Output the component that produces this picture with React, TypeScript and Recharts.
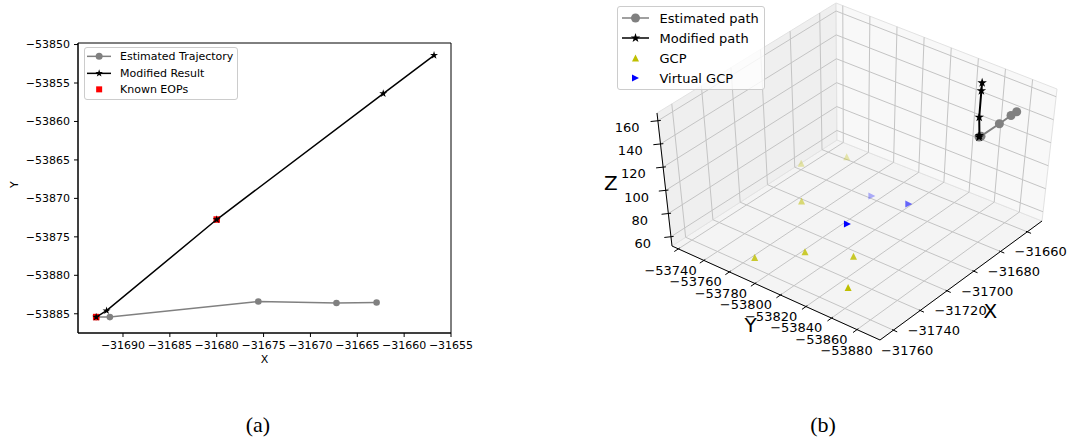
import React from "react";
import { Label, Legend, ReferenceArea, Scatter, ScatterChart, XAxis, YAxis } from "recharts";

const FONT = "DejaVu Sans";

// ---- (a) trajectories seen from above ----
const estX = [-31692.86, -31691.4, -31675.56, -31667.22, -31662.94];
const estY = [-53885.43, -53885.43, -53883.41, -53883.6, -53883.54];
const modX = [-31692.86, -31691.75, -31680.0, -31662.23, -31656.81];
const modY = [-53885.43, -53884.6, -53872.75, -53856.37, -53851.4];
const eopX = [-31692.86, -31680.0];
const eopY = [-53885.43, -53872.75];
const xTicksA = [-31690, -31685, -31680, -31675, -31670, -31665, -31660, -31655];
const yTicksA = [-53885, -53880, -53875, -53870, -53865, -53860, -53855, -53850];
const xDomA = [-31694.8, -31655];
const yDomA = [-53887.5, -53849.8];

// ---- (b) 3d view ----
const estZ = [157.5, 157, 153, 153, 152.5];
const modZ = [157.5, 157.5, 157.5, 157.5, 157.5];
const gcpX = [-31682, -31664.6, -31707.7, -31758.9, -31740.6, -31729.7, -31751.6];
const gcpY = [-53742.5, -53759.6, -53770.4, -53788.3, -53808.1, -53834.4, -53853.3];
const gcpZ = [60, 60, 60, 60, 60, 60, 60];
const vgcpX = [-31684.5, -31679.7, -31710.2];
const vgcpY = [-53800.8, -53824.7, -53809];
const vgcpZ = [60, 60, 60];
const xTicksB = [-31760, -31740, -31720, -31700, -31680, -31660];
const yTicksB = [-53740, -53760, -53780, -53800, -53820, -53840, -53860, -53880];
const zTicksB = [60, 80, 100, 120, 140, 160];
const xLimB = [-31770, -31649];
const yLimB = [-53898, -53735];
const zLimB = [52, 166.7];

// camera: where the 8 corners of the axes box land inside panel (b)
const BOX = [
  [0, 0, 0, 280, 340], [1, 0, 0, 442, 221], [0, 1, 0, 72, 246], [1, 1, 0, 237, 140],
  [0, 0, 1, 293, 212], [1, 0, 1, 457, 89], [0, 1, 1, 57, 113], [1, 1, 1, 236, 3],
];
const W_B = 469;
const H_B = 380;

const frac = (v: number, lim: number[]) => (v - lim[0]) / (lim[1] - lim[0]);

const project = (x: number, y: number, z: number) => {
  const a = frac(x, xLimB), b = frac(y, yLimB), c = frac(z, zLimB);
  let u = 0, v = 0;
  for (const [i, j, k, cu, cv] of BOX) {
    const w = (i ? a : 1 - a) * (j ? b : 1 - b) * (k ? c : 1 - c);
    u += w * cu;
    v += w * cv;
  }
  return { u, v };
};

const fmt = (v: number) => String(v).replace("-", "\u2212");

// markers
const starPts = (cx: number, cy: number, R: number) => {
  const out: string[] = [];
  for (let i = 0; i < 10; i++) {
    const ang = -Math.PI / 2 + (i * Math.PI) / 5;
    const rad = i % 2 ? R * 0.382 : R;
    out.push(`${cx + rad * Math.cos(ang)},${cy + rad * Math.sin(ang)}`);
  }
  return out.join(" ");
};
const mkCircle = (cx: number, cy: number, r: number, c: string) => <circle cx={cx} cy={cy} r={r} fill={c} />;
const mkStar = (cx: number, cy: number, R: number, c: string) => <polygon points={starPts(cx, cy, R)} fill={c} />;
const mkSquare = (cx: number, cy: number, s: number, c: string) => <rect x={cx - s / 2} y={cy - s / 2} width={s} height={s} fill={c} />;
const mkTriUp = (cx: number, cy: number, s: number, c: string, op = 1) => (
  <polygon points={`${cx},${cy - s} ${cx - s},${cy + s} ${cx + s},${cy + s}`} fill={c} fillOpacity={op} />
);
const mkTriRight = (cx: number, cy: number, s: number, c: string, op = 1) => (
  <polygon points={`${cx + s},${cy} ${cx - s},${cy - s} ${cx - s},${cy + s}`} fill={c} fillOpacity={op} />
);

// ---------- panel (a) ----------
const estPts = estX.map((x, i) => ({ x, y: estY[i] }));
const modPts = modX.map((x, i) => ({ x, y: modY[i] }));
const eopPts = eopX.map((x, i) => ({ x, y: eopY[i] }));

type LegItem = { label: string; line?: string; marker: (cx: number, cy: number) => React.ReactNode };

const LegendBox = ({ items, font, rowH, width, height, padTop, padLeft, sampleW, gap }: any) => (
  <div
    style={{
      boxSizing: "border-box", width, height, paddingTop: padTop, paddingLeft: padLeft,
      border: "1px solid #cccccc", borderRadius: 3, background: "rgba(255,255,255,0.8)",
      fontFamily: FONT, fontSize: font, color: "#000",
    }}
  >
    {items.map((it: LegItem) => (
      <div key={it.label} style={{ display: "flex", alignItems: "center", height: rowH }}>
        <svg width={sampleW} height={rowH} style={{ flex: "none" }}>
          {it.line && <line x1={0} x2={sampleW} y1={rowH / 2} y2={rowH / 2} stroke={it.line} strokeWidth={1.5} />}
          {it.marker(sampleW / 2, rowH / 2)}
        </svg>
        <span style={{ marginLeft: gap, whiteSpace: "nowrap" }}>{it.label}</span>
      </div>
    ))}
  </div>
);

const legendA: LegItem[] = [
  { label: "Estimated Trajectory", line: "#808080", marker: (cx, cy) => mkCircle(cx, cy, 3.5, "#808080") },
  { label: "Modified Result", line: "#000", marker: (cx, cy) => mkStar(cx, cy, 4, "#000") },
  { label: "Known EOPs", marker: (cx, cy) => mkSquare(cx, cy, 6, "#ff0000") },
];

const legendB: LegItem[] = [
  { label: "Estimated path", line: "#808080", marker: (cx, cy) => mkCircle(cx, cy, 4.5, "#808080") },
  { label: "Modified path", line: "#000", marker: (cx, cy) => mkStar(cx, cy, 5, "#000") },
  { label: "GCP", marker: (cx, cy) => mkTriUp(cx, cy, 3.5, "#bfbf00") },
  { label: "Virtual GCP", marker: (cx, cy) => mkTriRight(cx, cy, 3.5, "#0000ff") },
];

const tickA = { fontSize: 11, fontFamily: FONT, fill: "#000" };

const PanelA = () => (
  <ScatterChart width={480} height={380} margin={{ top: 43, right: 29, bottom: 11, left: 0 }}>
    <XAxis
      type="number" dataKey="x" domain={xDomA} ticks={xTicksA} allowDataOverflow interval={0}
      height={36} tickFormatter={fmt} tick={tickA} tickSize={4} tickMargin={4} stroke="#000"
    >
      <Label value="X" position="insideBottom" offset={6} style={{ fontSize: 11, fontFamily: FONT, fill: "#000" }} />
    </XAxis>
    <YAxis
      type="number" dataKey="y" domain={yDomA} ticks={yTicksA} allowDataOverflow interval={0}
      width={78} tickFormatter={fmt} tick={tickA} tickSize={4} tickMargin={4} stroke="#000"
    >
      <Label value="Y" angle={-90} position="insideLeft" offset={14} style={{ fontSize: 11, fontFamily: FONT, fill: "#000" }} />
    </YAxis>
    <ReferenceArea
      x1={xDomA[0]} x2={xDomA[1]} y1={yDomA[0]} y2={yDomA[1]}
      fill="none" fillOpacity={0} stroke="#000" strokeWidth={1} ifOverflow="visible"
    />
    <Scatter
      data={estPts} fill="#808080" line={{ stroke: "#808080", strokeWidth: 1.5 }}
      shape={(p: any) => mkCircle(p.cx, p.cy, 3.3, "#808080")} isAnimationActive={false}
    />
    <Scatter data={eopPts} fill="#ff0000" shape={(p: any) => mkSquare(p.cx, p.cy, 6.5, "#ff0000")} isAnimationActive={false} />
    <Scatter
      data={modPts} fill="#000" line={{ stroke: "#000", strokeWidth: 1.5 }}
      shape={(p: any) => mkStar(p.cx, p.cy, 4.2, "#000")} isAnimationActive={false}
    />
    <Legend
      layout="vertical" align="center" verticalAlign="middle"
      wrapperStyle={{ left: 84, top: 47, width: 154 }}
      content={() => (
        <LegendBox items={legendA} font={11} rowH={16.7} width={154} height={53} padTop={0} padLeft={1.7} sampleW={24.3} gap={9} />
      )}
    />
  </ScatterChart>
);

// ---------- panel (b) ----------
const X0 = xLimB[0], X1 = xLimB[1], Y0 = yLimB[0], Y1 = yLimB[1], Z0 = zLimB[0], Z1 = zLimB[1];
const P = (x: number, y: number, z: number) => project(x, y, z);

const floorPane = [P(X0, Y0, Z0), P(X1, Y0, Z0), P(X1, Y1, Z0), P(X0, Y1, Z0)];
const yPane = [P(X0, Y1, Z0), P(X1, Y1, Z0), P(X1, Y1, Z1), P(X0, Y1, Z1)];
const xPane = [P(X1, Y0, Z0), P(X1, Y1, Z0), P(X1, Y1, Z1), P(X1, Y0, Z1)];

const gridSegs = [
  ...xTicksB.flatMap((t) => [P(t, Y0, Z0), P(t, Y1, Z0), P(t, Y1, Z0), P(t, Y1, Z1)]),
  ...yTicksB.flatMap((t) => [P(X0, t, Z0), P(X1, t, Z0), P(X1, t, Z0), P(X1, t, Z1)]),
  ...zTicksB.flatMap((t) => [P(X0, Y1, t), P(X1, Y1, t), P(X1, Y0, t), P(X1, Y1, t)]),
];
const axisSegs = [
  P(X0, Y0, Z0), P(X1, Y0, Z0),
  P(X0, Y0, Z0), P(X0, Y1, Z0),
  P(X0, Y1, Z0), P(X0, Y1, Z1),
  ...xTicksB.flatMap((t) => [P(t, Y0 + 1, Z0), P(t, Y0 - 3, Z0)]),
  ...yTicksB.flatMap((t) => [P(X0 + 1, t, Z0), P(X0 - 3, t, Z0)]),
  ...zTicksB.flatMap((t) => [P(X0 + 1, Y1 - 1, t), P(X0 - 2.5, Y1 + 2.5, t)]),
];

const xLabels = xTicksB.map((t) => ({ ...P(t, Y0 - 12, Z0 - 12), txt: fmt(t) }));
const yLabels = yTicksB.map((t) => ({ ...P(X0 - 7, t, Z0 - 13), txt: fmt(t) }));
const zLabels = zTicksB.map((t) => ({ ...P(X0 - 13, Y1 + 8, t), txt: String(t) }));
const titles = [
  { ...P((X0 + X1) / 2, Y0 - 25, Z0 - 15), txt: "X" },
  { ...P(X0 - 19, (Y0 + Y1) / 2, Z0 - 13), txt: "Y" },
  { ...P(X0 - 16, Y1 + 23, (Z0 + Z1) / 2 - 3), txt: "Z" },
];

// depth shading like matplotlib scatter (far points fade)
const shade = (xs: number[], ys: number[], zs: number[]) => {
  const d = xs.map((x, i) => frac(x, xLimB) + frac(ys[i], yLimB));
  const lo = Math.min(...d), hi = Math.max(...d);
  return xs.map((x, i) => ({ ...P(x, ys[i], zs[i]), op: 1 - (0.7 * (d[i] - lo)) / (hi - lo) }));
};
const gcpPts = shade(gcpX, gcpY, gcpZ);
const vgcpPts = shade(vgcpX, vgcpY, vgcpZ);
const estPts3 = estX.map((x, i) => P(x, estY[i], estZ[i]));
const modPts3 = modX.map((x, i) => P(x, modY[i], modZ[i]));

const noDot = () => <g />;
const pane = (fill: string) => (p: any) => (
  <polygon points={p.points.map((q: any) => `${q.x},${q.y}`).join(" ")} fill={fill} stroke="#e2e2e2" strokeWidth={1} />
);
const segs = (stroke: string, width: number) => (p: any) => {
  const pts = p.points;
  let d = "";
  for (let i = 0; i + 1 < pts.length; i += 2) d += `M${pts[i].x},${pts[i].y}L${pts[i + 1].x},${pts[i + 1].y}`;
  return <path d={d} stroke={stroke} strokeWidth={width} fill="none" />;
};
const textShape = (size: number) => (p: any) => (
  <text x={p.cx} y={p.cy} textAnchor="middle" dominantBaseline="central" fontSize={size} fontFamily={FONT} fill="#000">
    {p.payload.txt}
  </text>
);

const PanelB = () => (
  <ScatterChart width={W_B} height={H_B} margin={{ top: 0, right: 0, bottom: 0, left: 0 }}>
    <XAxis type="number" dataKey="u" domain={[0, W_B]} hide height={0} />
    <YAxis type="number" dataKey="v" domain={[0, H_B]} reversed hide width={0} />
    <Scatter data={floorPane} line={pane("#f4f4f4")} shape={noDot} isAnimationActive={false} />
    <Scatter data={yPane} line={pane("#efefef")} shape={noDot} isAnimationActive={false} />
    <Scatter data={xPane} line={pane("#f8f8f8")} shape={noDot} isAnimationActive={false} />
    <Scatter data={gridSegs} line={segs("#c4c4c4", 1)} shape={noDot} isAnimationActive={false} />
    <Scatter data={axisSegs} line={segs("#000", 1)} shape={noDot} isAnimationActive={false} />
    <Scatter data={xLabels} shape={textShape(13)} isAnimationActive={false} />
    <Scatter data={yLabels} shape={textShape(13)} isAnimationActive={false} />
    <Scatter data={zLabels} shape={textShape(13)} isAnimationActive={false} />
    <Scatter data={titles} shape={textShape(20)} isAnimationActive={false} />
    <Scatter data={gcpPts} shape={(p: any) => mkTriUp(p.cx, p.cy, 3.5, "#bfbf00", p.payload.op)} isAnimationActive={false} />
    <Scatter data={vgcpPts} shape={(p: any) => mkTriRight(p.cx, p.cy, 3.5, "#0000ff", p.payload.op)} isAnimationActive={false} />
    <Scatter
      data={estPts3} fill="#808080" line={{ stroke: "#808080", strokeWidth: 2 }}
      shape={(p: any) => mkCircle(p.cx, p.cy, 4.5, "#808080")} isAnimationActive={false}
    />
    <Scatter
      data={modPts3} fill="#000" line={{ stroke: "#000", strokeWidth: 2 }}
      shape={(p: any) => mkStar(p.cx, p.cy, 5, "#000")} isAnimationActive={false}
    />
    <Legend
      layout="vertical" align="center" verticalAlign="middle"
      wrapperStyle={{ left: 17, top: 6, width: 148 }}
      content={() => (
        <LegendBox items={legendB} font={13} rowH={20} width={148} height={84} padTop={1.3} padLeft={4} sampleW={27} gap={10.5} />
      )}
    />
  </ScatterChart>
);

const caption = (cx: number): React.CSSProperties => ({
  position: "absolute", left: cx - 30, width: 60, top: 411, textAlign: "center",
  fontFamily: "Liberation Serif", fontSize: 22, lineHeight: "28px", color: "#000",
});

export default function App() {
  return (
    <div style={{ position: "absolute", left: 0, top: 0, width: 1069, height: 438, background: "#fff", overflow: "hidden" }}>
      <div style={{ position: "absolute", left: 0, top: 0 }}>
        <PanelA />
      </div>
      <div style={{ position: "absolute", left: 600, top: 0 }}>
        <PanelB />
      </div>
      <div style={caption(258)}>(a)</div>
      <div style={caption(823)}>(b)</div>
    </div>
  );
}
